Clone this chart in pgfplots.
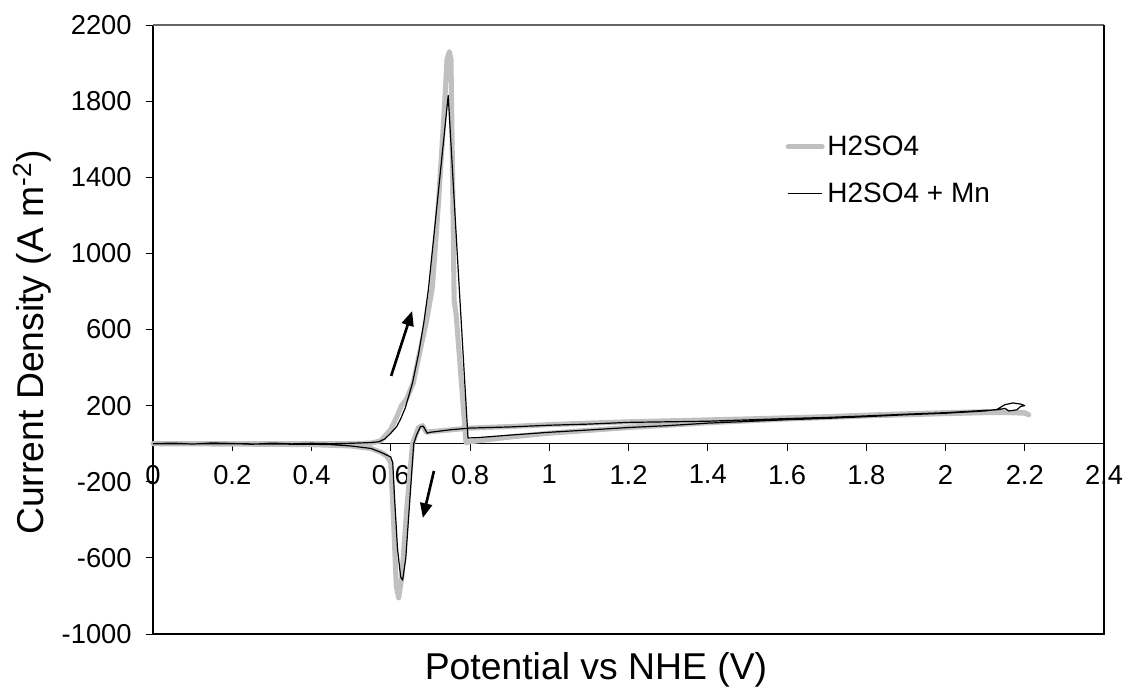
\documentclass[border=0pt]{standalone}
\usepackage{pgfplots}
\pgfplotsset{compat=1.18}
\usepackage{fontspec}
\setmainfont{Liberation Sans}
\usetikzlibrary{arrows.meta}
\definecolor{lgray}{RGB}{192,192,192}
\pgfplotstableread{
x y
0 0
0.1 0
0.2 0
0.3 0
0.4 0
0.5 0
0.55 3
0.575 15
0.6 75
0.615 140
0.627 200
0.64 235
0.657 320
0.672 470
0.69 640
0.705 820
0.72 1250
0.735 1750
0.742 2020
0.748 2060
0.752 2020
0.756 1400
0.76 750
0.765 680
0.79 5
0.8 10
0.9 35
1.0 55
1.1 70
1.2 85
1.3 97
1.4 110
1.5 120
1.6 130
1.7 138
1.8 146
1.9 152
2.0 158
2.1 163
2.2 163
2.21 152
2.2 160
2.1 168
2.0 163
1.9 157
1.8 150
1.7 142
1.6 136
1.5 130
1.4 125
1.3 120
1.2 115
1.1 108
1.0 100
0.9 90
0.8 82
0.7 63
0.69 60
0.68 95
0.67 85
0.655 0
0.64 -350
0.628 -700
0.62 -810
0.614 -750
0.607 -400
0.6 -100
0.59 -65
0.575 -45
0.55 -25
0.5 -12
0.4 -5
0.2 -2
0 0
}\grayser
\pgfplotstableread{
x y
0 0
0.05 3
0.1 -2
0.15 4
0.2 1
0.25 -3
0.3 3
0.35 -1
0.4 2
0.45 0
0.5 2
0.55 6
0.57 10
0.585 25
0.6 55
0.615 90
0.625 130
0.637 190
0.655 320
0.67 470
0.683 630
0.695 810
0.72 1320
0.745 1830
0.77 920
0.795 30
0.82 32
0.9 45
1.0 60
1.1 72
1.2 85
1.3 95
1.4 108
1.5 117
1.6 126
1.7 133
1.8 142
1.9 152
2.0 160
2.05 166
2.1 172
2.13 180
2.15 205
2.17 214
2.19 208
2.2 200
2.19 196
2.18 178
2.16 172
2.15 185
2.13 178
2.1 175
2.0 163
1.9 155
1.8 146
1.7 138
1.6 132
1.5 125
1.4 118
1.3 115
1.2 112
1.1 103
1.0 97
0.9 88
0.8 82
0.75 73
0.7 60
0.692 55
0.682 92
0.675 90
0.665 45
0.658 0
0.648 -300
0.638 -600
0.63 -717
0.625 -700
0.617 -550
0.61 -300
0.605 -100
0.6 -70
0.59 -60
0.575 -45
0.55 -25
0.5 -12
0.45 -5
0.4 -3
0.3 -2
0.2 0
0.1 -1
0 0
}\blackser
\begin{document}
\begin{tikzpicture}
\path[use as bounding box] (0,0) rectangle (846.75pt,519.75pt);
\begin{axis}[
 at={(114.75pt,44.25pt)}, anchor=south west,
 scale only axis, width=713.25pt, height=456.75pt,
 xmin=0, xmax=2.4, ymin=-1000, ymax=2200,
 axis x line=middle, axis y line=left,
 axis line style={-, black, line width=0.8pt},
 clip=false,
 xtick={0,0.2,0.4,0.6,0.8,1,1.2,1.4,1.6,1.8,2,2.2,2.4},
 ytick={-1000,-600,-200,200,600,1000,1400,1800,2200},
 tick align=outside, major tick length=5.5pt,
 tick style={black, line width=0.6pt},
 /pgf/number format/assume math mode=true,
 /pgf/number format/1000 sep={},
 ticklabel style={font=\fontsize{20.5}{22}\selectfont},
 xticklabel style={yshift=-7pt},
 yticklabel style={xshift=-7pt},
 hide obscured x ticks=false,
 xlabel={Potential vs NHE (V)},
 ylabel={Current Density (A m\textsuperscript{-2})},
 xlabel style={at={(axis description cs:0.4658,-0.0739)}, anchor=base, font=\fontsize{28}{31}\selectfont},
 ylabel style={at={(axis description cs:-0.127,0.479)}, anchor=center, rotate=0, font=\fontsize{28}{31}\selectfont},
 legend style={at={(axis description cs:0.665,0.8227)}, anchor=north west, draw=none, fill=none,
   font=\fontsize{21}{24}\selectfont, row sep=15pt, inner sep=0pt},
 legend cell align=left,
 legend image code/.code={\draw[#1] (0pt,0pt) -- (25.5pt,0pt);},
]
\addplot[lgray, line width=3.8pt, line join=round, line cap=round] table[x=x,y=y] {\grayser};
\addlegendentry{H2SO4}
\addplot[black, line width=0.9pt, line join=round] table[x=x,y=y] {\blackser};
\addlegendentry{H2SO4 + Mn}
\draw[black!60, line width=1.5pt] (rel axis cs:0,1) -- (rel axis cs:1,1);
\draw[black, line width=1pt] (rel axis cs:1,1) -- (rel axis cs:1,0) -- (rel axis cs:0,0);
\draw[-{Triangle[length=11pt,width=9pt]}, line width=2pt] (axis cs:0.601,356) -- (axis cs:0.654,697);
\draw[-{Triangle[length=11pt,width=9pt]}, line width=2pt] (axis cs:0.709,-143) -- (axis cs:0.681,-390);
\end{axis}
\end{tikzpicture}
\end{document}
